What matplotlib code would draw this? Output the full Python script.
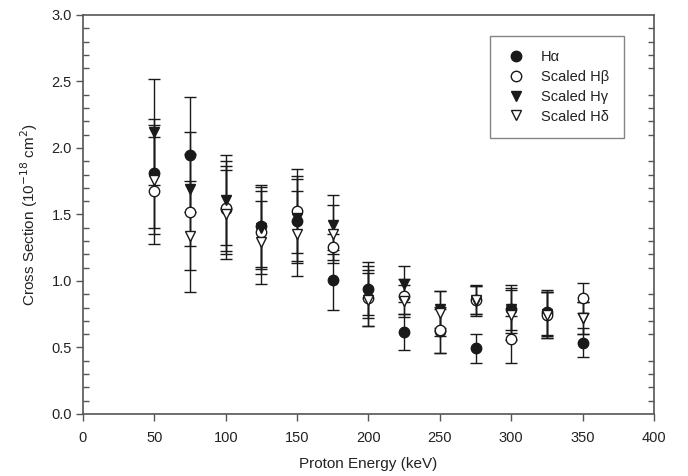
import matplotlib
matplotlib.use("Agg")
import matplotlib.pyplot as plt
import numpy as np
from matplotlib.ticker import MultipleLocator, FormatStrFormatter

plt.rcParams['font.family'] = ['Liberation Sans', 'DejaVu Sans']

energy = [50, 75, 100, 125, 150, 175, 200, 225, 250, 275, 300, 325, 350]

h_alpha = [1.81, 1.95, 1.545, 1.415, 1.448, 1.009, 0.942, 0.615, 0.625, 0.495, 0.79, 0.765, 0.537]
h_alpha_err = [0.41, 0.435, 0.32, 0.31, 0.316, 0.226, 0.197, 0.133, 0.165, 0.11, 0.18, 0.17, 0.11]

h_beta = [1.68, 1.52, 1.55, 1.365, 1.527, 1.255, 0.87, 0.885, 0.632, 0.858, 0.562, 0.745, 0.871]
h_beta_err = [0.40, 0.435, 0.35, 0.31, 0.317, 0.10, 0.21, 0.13, 0.175, 0.11, 0.176, 0.17, 0.113]

h_gamma = [2.12, 1.69, 1.61, 1.40, 1.47, 1.424, 0.915, 0.975, 0.788, 0.85, 0.79, 0.755, 0.72]
h_gamma_err = [0.40, 0.43, 0.34, 0.31, 0.316, 0.22, 0.195, 0.134, 0.14, 0.11, 0.16, 0.165, 0.12]

h_delta = [1.76, 1.335, 1.50, 1.29, 1.357, 1.354, 0.86, 0.85, 0.758, 0.855, 0.745, 0.745, 0.72]
h_delta_err = [0.41, 0.42, 0.335, 0.31, 0.317, 0.22, 0.20, 0.12, 0.17, 0.105, 0.19, 0.17, 0.12]

labels = ['H\u03b1', 'Scaled H\u03b2', 'Scaled H\u03b3', 'Scaled H\u03b4']

ink = '#1a1a1a'
axis_col = '#555555'

fig = plt.figure(figsize=(6.88, 4.76), dpi=100)
ax = fig.add_axes((0.1206, 0.1303, 0.830, 0.8382))

series = [
    (h_alpha, h_alpha_err, 'o', ink),
    (h_beta, h_beta_err, 'o', 'white'),
    (h_gamma, h_gamma_err, 'v', ink),
    (h_delta, h_delta_err, 'v', 'white'),
]

handles = []
for vals, errs, marker, face in series:
    c = ax.errorbar(energy, vals, yerr=errs, fmt=marker, ms=7.5, mfc=face, mec=ink,
                    mew=1.0, ecolor=ink, elinewidth=1.0, capsize=4.5, capthick=1.0,
                    color=ink)
    handles.append(c[0])

ax.set_xlim(0, 400)
ax.set_ylim(0, 3.0)
ax.set_xticks(range(0, 401, 50))
ax.yaxis.set_major_locator(MultipleLocator(0.5))
ax.yaxis.set_minor_locator(MultipleLocator(0.1))
ax.yaxis.set_major_formatter(FormatStrFormatter('%.1f'))

ax.tick_params(axis='y', which='major', direction='out', length=5, width=1,
               left=True, right=False, color=axis_col, labelsize=10.5, labelcolor='#222', pad=3)
ax.tick_params(axis='y', which='minor', direction='in', length=4, width=1,
               left=True, right=True, color=axis_col)
ax.tick_params(axis='x', which='major', direction='out', length=5, width=1,
               top=False, color=axis_col, labelsize=10.5, labelcolor='#222', pad=7)

for sp in ax.spines.values():
    sp.set_color(axis_col)
    sp.set_linewidth(1.2)

ax.set_xlabel('Proton Energy (keV)', fontsize=11, color='#222', labelpad=9)
ax.set_ylabel('Cross Section (10$^{-18}$ cm$^{2}$)', fontsize=11, color='#222', labelpad=8)

leg = ax.legend(handles, labels, loc='upper right', bbox_to_anchor=(0.947, 0.9486),
                borderaxespad=0, numpoints=1, fontsize=10.5, frameon=True, fancybox=False,
                handlelength=1.6, handletextpad=0.9, borderpad=1.0, labelspacing=0.4)
leg.get_frame().set_edgecolor('#666666')
leg.get_frame().set_linewidth(1.0)
for t in leg.get_texts():
    t.set_color('#222')

fig.savefig('out.png', dpi=100)
